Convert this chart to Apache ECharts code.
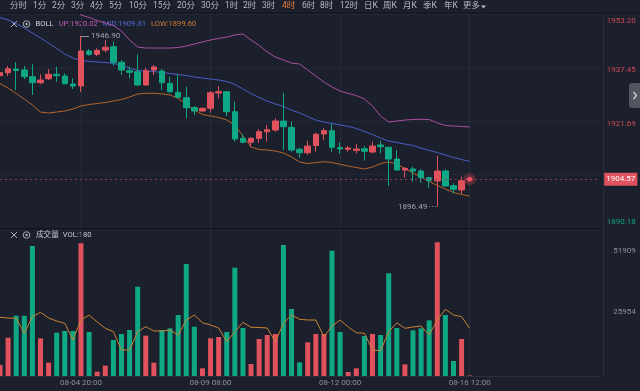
<!DOCTYPE html>
<html><head><meta charset="utf-8">
<script src="https://cdn.jsdelivr.net/npm/echarts@6/dist/echarts.min.js"></script>
<style>html,body{margin:0;padding:0;background:#1b202c;}#c{width:640px;height:391px;}</style>
</head><body><div id="c"></div>
<script>
// ---------- data ----------
const openPrice = [1935.15,1936.04,1937.13,1936.84,1934.86,1933.09,1934.27,1935.57,1935.07,1932.70,1932.11,1942.45,1941.47,1942.74,1943.72,1939.11,1936.63,1936.34,1932.41,1936.84,1936.54,1932.91,1930.25,1928.66,1925.70,1924.73,1925.53,1930.04,1930.43,1924.52,1916.67,1915.49,1916.67,1918.62,1919.12,1921.78,1919.91,1913.42,1912.41,1914.54,1917.94,1918.91,1913.89,1913.42,1913.12,1913.59,1912.62,1914.69,1914.01,1910.55,1907.30,1907.60,1907.01,1905.03,1904.06,1907.01,1902.67,1901.40,1904.50];
const closePrice = [1936.04,1937.22,1936.69,1934.86,1933.09,1933.88,1935.57,1935.15,1932.79,1932.11,1942.45,1941.47,1942.66,1943.54,1939.11,1936.84,1936.16,1932.41,1936.63,1937.72,1933.09,1930.43,1928.77,1925.70,1924.73,1925.53,1930.13,1930.43,1924.52,1916.46,1915.49,1916.67,1918.62,1919.21,1921.78,1920.09,1913.21,1912.41,1914.39,1917.85,1918.91,1914.01,1913.51,1913.80,1913.51,1912.83,1914.39,1914.19,1910.55,1907.30,1907.81,1907.01,1905.03,1904.14,1907.01,1902.58,1901.60,1904.14,1904.57];
const highPrice = [1937.13,1938.02,1939.20,1938.02,1938.52,1935.57,1937.13,1937.81,1935.86,1934.39,1946.90,1943.04,1943.25,1945.70,1945.20,1939.79,1937.81,1941.47,1937.52,1938.31,1937.13,1934.86,1935.66,1931.91,1926.21,1925.70,1930.64,1932.11,1930.64,1927.48,1917.94,1916.96,1919.41,1920.59,1922.57,1930.13,1921.57,1913.89,1915.96,1918.32,1919.62,1920.89,1915.49,1914.39,1914.98,1914.39,1915.66,1915.96,1914.01,1913.21,1908.10,1908.28,1907.51,1905.33,1911.53,1907.51,1903.38,1905.33,1904.65];
const lowPrice = [1934.18,1935.07,1930.93,1934.18,1929.45,1932.61,1933.88,1933.38,1932.61,1931.23,1930.34,1941.06,1940.97,1942.06,1938.11,1935.36,1934.39,1932.11,1932.26,1935.36,1930.93,1929.96,1928.48,1922.57,1923.55,1924.52,1924.23,1928.48,1923.25,1915.66,1915.19,1914.01,1915.37,1915.66,1918.62,1913.21,1912.71,1910.94,1911.73,1912.71,1916.16,1912.71,1912.03,1912.71,1912.24,1910.05,1912.24,1912.24,1902.58,1907.30,1905.03,1903.85,1903.55,1902.08,1896.49,1902.37,1900.42,1900.22,1904.45];
const volume = [4270,14870,23410,23410,50480,14630,5170,16820,17470,17470,51520,17080,1680,4010,13980,16310,17860,34680,15660,5170,17860,18510,23690,43490,19150,2980,14630,15140,17080,42060,18640,4660,14370,15920,16310,50870,26020,5310,13070,16310,16310,48660,17080,1550,2980,15530,16310,15920,39870,18640,4530,17730,18510,21610,51909,23690,5820,14370,180];
const volMA = [22790,22520,22400,16580,23030,24730,22520,21360,20460,13980,21740,23690,20970,18520,17200,10100,10100,17200,19140,17470,17470,17860,15920,21740,23690,20700,19800,18640,13320,17200,20850,18910,18830,18640,13320,20460,23690,22020,21740,21740,15260,19420,21740,19030,16810,16580,10100,9820,17200,20700,18520,19030,19420,15920,21740,25900,23690,23030,18520];
const bollUp = [1971.83,1971.68,1971.24,1970.21,1969.02,1968.15,1965.48,1961.95,1958.39,1955.44,1953.08,1952.34,1951.46,1950.72,1949.98,1948.36,1945.70,1943.63,1943.33,1943.33,1943.33,1943.33,1943.48,1943.93,1944.52,1945.11,1945.70,1946.14,1946.58,1947.17,1947.47,1945.70,1944.07,1942.15,1940.68,1939.79,1938.90,1938.61,1936.84,1935.07,1933.29,1931.82,1930.64,1929.90,1929.31,1928.27,1926.21,1923.25,1921.48,1921.78,1922.07,1922.22,1922.28,1922.22,1921.19,1920.45,1920.30,1920.15,1920.02];
const bollMid = [1952.34,1951.60,1950.57,1949.24,1947.76,1946.29,1944.81,1943.19,1941.56,1940.38,1939.64,1939.35,1939.20,1939.05,1938.76,1938.31,1937.43,1936.69,1936.54,1936.39,1936.10,1935.80,1935.51,1935.21,1934.77,1934.47,1934.18,1933.88,1933.44,1932.56,1931.23,1929.90,1928.72,1927.68,1926.80,1926.06,1925.02,1924.14,1923.10,1922.07,1921.48,1921.04,1920.59,1920.21,1919.56,1918.67,1917.79,1916.75,1915.87,1915.43,1914.98,1914.54,1913.80,1913.06,1912.47,1911.73,1911.00,1910.41,1909.81];
const bollLow = [1932.85,1931.52,1929.90,1928.27,1926.50,1924.43,1924.14,1924.43,1924.73,1925.32,1926.21,1926.65,1926.94,1927.24,1927.68,1928.13,1928.86,1929.75,1929.96,1929.96,1929.81,1929.45,1928.42,1926.80,1925.02,1923.70,1923.25,1922.81,1922.07,1920.59,1917.35,1914.10,1913.36,1913.21,1912.92,1912.33,1911.14,1909.67,1909.22,1909.52,1909.76,1909.52,1908.99,1908.49,1908.04,1907.60,1908.19,1909.22,1909.73,1909.08,1907.75,1906.42,1905.24,1903.91,1902.73,1901.69,1900.66,1900.07,1899.60];
const totalSlots = 75;
const timeTickIndex = [10, 26, 42, 58];
const timeTickText = ['08-04 20:00', '08-09 08:00', '08-12 00:00', '08-16 12:00'];
const priceTickValues = [1953.20, 1937.45, 1921.69, 1890.18];
const priceTickText = ['1953.20', '1937.45', '1921.69', '1890.18'];
const priceMin = 1890.18, priceMax = 1953.20, priceStep = 15.755;
const volTickValues = [51909, 25954];
const volTickText = ['51909', '25954'];
const currentPrice = 1904.57;
const highMark = {index: 10, value: 1946.90, text: '1946.90'};
const lowMark = {index: 54, value: 1896.49, text: '1896.49'};
const legendBoll = ['BOLL', 'UP:1920.02', 'MID:1909.81', 'LOW:1899.60'];
const legendVol = ['成交量', 'VOL:180'];
const tabs = ['分时','1分','2分','3分','4分','5分','10分','15分','20分','30分','1时','2时','3时','4时','6时','8时','12时','日K','周K','月K','季K','年K','更多'];
const activeTab = '4时';

// ---------- style ----------
const RED = '#e0525d', GREEN = '#0ea887';
const FONT = 'Roboto, "Noto Sans CJK SC", sans-serif';
const categories = Array.from({length: totalSlots}, (_, i) => String(i));
const candleData = openPrice.map((o, i) => [o, closePrice[i], lowPrice[i], highPrice[i]]);
const volData = volume.map((v, i) => ({value: v, itemStyle: {color: closePrice[i] >= openPrice[i] ? RED : GREEN}}));

const chart = echarts.init(document.getElementById('c'), null, {renderer: 'canvas', width: 640, height: 391});
const measureCtx = document.createElement('canvas').getContext('2d');
function textWidth(t, font) { measureCtx.font = font; return measureCtx.measureText(t).width; }

const tabX = [10,33,52,71,90,109,129,153,177,201,225,243,262,282,302,320,340,364,383,403,423,444,463];
const graphics = [];
tabs.forEach((t, i) => {
  graphics.push({type: 'text', style: {x: tabX[i], y: 6, text: t, fill: t === activeTab ? '#ee7d3c' : '#b4b8c2', font: '8.5px ' + FONT, textVerticalAlign: 'middle', verticalAlign: 'middle'}});
});
graphics.push({type: 'polygon', shape: {points: [[481,5.5],[486,5.5],[483.5,8.5]]}, style: {fill: '#b4b8c2'}});
graphics.push({type: 'rect', shape: {x: 0, y: 12.5, width: 640, height: 1}, style: {fill: '#11151d'}});
function icons(cy) {
  return [
    {type: 'line', shape: {x1: 11, y1: cy - 3, x2: 17, y2: cy + 3}, style: {stroke: '#aab0ba', lineWidth: 1}},
    {type: 'line', shape: {x1: 17, y1: cy - 3, x2: 11, y2: cy + 3}, style: {stroke: '#aab0ba', lineWidth: 1}},
    {type: 'circle', shape: {cx: 26.5, cy: cy, r: 3.3}, style: {stroke: '#aab0ba', fill: 'none', lineWidth: 1}},
    {type: 'circle', shape: {cx: 26.5, cy: cy, r: 1.2}, style: {fill: '#aab0ba'}}
  ];
}
graphics.push(...icons(24), ...icons(235));
function legendRow(items, colors, x0, y, gap) {
  const font = '7.6px ' + FONT;
  let x = x0;
  items.forEach((t, i) => {
    graphics.push({type: 'text', style: {x, y, text: t, fill: colors[i], font, textVerticalAlign: 'middle', verticalAlign: 'middle'}});
    x += textWidth(t, font) + gap;
  });
}
legendRow(legendBoll, ['#d0d4dc', '#c35fb6', '#5567d6', '#d27b35'], 35.5, 24, 5);
legendRow(legendVol, ['#c4c8d0', '#c4c8d0'], 36, 235, 4);
graphics.push({type: 'rect', shape: {x: 629, y: 83, width: 14, height: 25, r: 3}, style: {fill: '#50555f'}});
graphics.push({type: 'polyline', shape: {points: [[633.5,92],[636.5,95.5],[633.5,99]]}, style: {stroke: '#d8dbe0', lineWidth: 1.2, fill: 'none'}});

function priceLabel(v) {
  const k = priceTickValues.findIndex(t => Math.abs(t - v) < 0.01);
  if (k < 0) return '';
  const key = k === 0 ? 'top' : (k === priceTickValues.length - 1 ? 'bot' : 'mid');
  return '{' + key + '|' + priceTickText[k] + '}';
}
function volLabel(v) {
  const k = volTickValues.findIndex(t => Math.abs(t - v) < 1);
  if (k < 0) return '';
  return '{' + (k === 0 ? 'top' : 'mid') + '|' + volTickText[k] + '}';
}

const option = {
  backgroundColor: '#1b202c',
  animation: false,
  graphic: graphics,
  grid: [
    {left: -2, right: 40.75, top: 14.6, height: 213.4},
    {left: -2, right: 40.75, top: 228, height: 148}
  ],
  xAxis: [
    {type: 'category', gridIndex: 0, data: categories, boundaryGap: false,
      axisLine: {show: true, lineStyle: {color: '#10141b', width: 1}}, axisTick: {show: false}, axisLabel: {show: false},
      splitLine: {show: true, interval: (i) => timeTickIndex.includes(i), lineStyle: {color: '#262c38', width: 1}}},
    {type: 'category', gridIndex: 1, data: categories, boundaryGap: false,
      axisLine: {show: true, lineStyle: {color: '#2a303b', width: 1}}, axisTick: {show: false},
      axisLabel: {show: true, interval: (i) => timeTickIndex.includes(i), formatter: (v) => { const k = timeTickIndex.indexOf(Number(v)); return k < 0 ? '' : timeTickText[k]; }, color: '#8d929c', fontSize: 8, fontFamily: FONT, margin: 3},
      splitLine: {show: true, interval: (i) => timeTickIndex.includes(i), lineStyle: {color: '#262c38', width: 1}}}
  ],
  yAxis: [
    {type: 'value', gridIndex: 0, position: 'right', offset: 3.5, min: priceMin, max: priceMax, interval: priceStep, scale: true,
      axisLine: {show: true, lineStyle: {color: '#2a303b'}}, axisTick: {show: false},
      splitLine: {show: true, lineStyle: {color: '#222835'}},
      axisLabel: {show: true, align: 'right', margin: 33, formatter: priceLabel, fontSize: 8, fontFamily: FONT,
        rich: {top: {color: '#cf4a55', fontSize: 8, fontFamily: FONT, padding: [13, 0, 0, 0]},
               mid: {color: '#cf4a55', fontSize: 8, fontFamily: FONT, padding: [5, 0, 0, 0]},
               bot: {color: '#17a185', fontSize: 8, fontFamily: FONT, padding: [0, 0, 12, 0]}}}},
    {type: 'value', gridIndex: 1, position: 'right', offset: 3.5, min: 0, max: 57462, interval: 25954.5,
      axisLine: {show: true, lineStyle: {color: '#2a303b'}}, axisTick: {show: false},
      splitLine: {show: false},
      axisLabel: {show: true, align: 'right', margin: 33, formatter: volLabel, fontSize: 8, fontFamily: FONT,
        rich: {top: {color: '#8d929c', fontSize: 8, fontFamily: FONT, padding: [17, 0, 0, 0]},
               mid: {color: '#8d929c', fontSize: 8, fontFamily: FONT, padding: [5, 0, 0, 0]}}}}
  ],
  series: [
    {type: 'candlestick', xAxisIndex: 0, yAxisIndex: 0, data: candleData, barWidth: 6,
      itemStyle: {color: RED, color0: GREEN, borderColor: RED, borderColor0: GREEN, borderWidth: 1},
      markLine: {symbol: ['none', 'none'], silent: true, animation: false,
        data: [
          {yAxis: currentPrice, lineStyle: {color: '#93404a', type: [2, 3], width: 1},
            label: {show: true, position: 'end', distance: 5, formatter: currentPrice.toFixed(2), backgroundColor: '#e0525d', color: '#ffffff', padding: [3, 2, 2, 2], fontSize: 8, fontFamily: FONT}},
          [{coord: [highMark.index, highMark.value], lineStyle: {color: '#8a8f99', type: 'solid', width: 1},
            label: {show: true, position: 'end', distance: 2, formatter: highMark.text, color: '#a3a8b1', fontSize: 8, fontFamily: FONT}},
           {coord: [highMark.index + 1, highMark.value]}],
          [{coord: [lowMark.index - 1, lowMark.value], lineStyle: {color: '#8a8f99', type: [1, 2], width: 1},
            label: {show: true, position: 'start', distance: 2, formatter: lowMark.text, color: '#a3a8b1', fontSize: 8, fontFamily: FONT}},
           {coord: [lowMark.index, lowMark.value]}]
        ]}},
    {type: 'line', name: 'UP', xAxisIndex: 0, yAxisIndex: 0, data: bollUp, showSymbol: false, lineStyle: {color: '#a9519f', width: 1}, z: 1},
    {type: 'line', name: 'MID', xAxisIndex: 0, yAxisIndex: 0, data: bollMid, showSymbol: false, lineStyle: {color: '#4b5ec8', width: 1}, z: 1},
    {type: 'line', name: 'LOW', xAxisIndex: 0, yAxisIndex: 0, data: bollLow, showSymbol: false, lineStyle: {color: '#b5652d', width: 1}, z: 1},
    {type: 'scatter', xAxisIndex: 0, yAxisIndex: 0, data: [[openPrice.length - 1, currentPrice]], symbolSize: 12,
      itemStyle: {color: 'rgba(224,82,93,0.28)'}, silent: true, z: 5},
    {type: 'scatter', xAxisIndex: 0, yAxisIndex: 0, data: [[openPrice.length - 1, currentPrice]], symbolSize: 5,
      itemStyle: {color: '#ff5b68', shadowBlur: 6, shadowColor: '#ff3344'}, silent: true, z: 6},
    {type: 'bar', xAxisIndex: 1, yAxisIndex: 1, data: volData, barWidth: 5},
    {type: 'line', xAxisIndex: 1, yAxisIndex: 1, data: volMA, showSymbol: false, lineStyle: {color: '#c98533', width: 1}}
  ]
};
chart.setOption(option);
</script>
</body></html>
